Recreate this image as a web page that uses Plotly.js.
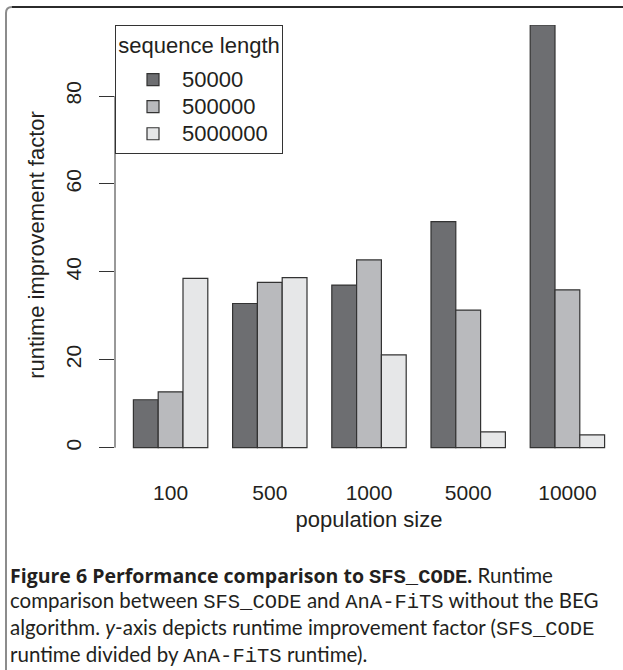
<!DOCTYPE html>
<html>
<head>
<meta charset="utf-8">
<script src="https://cdn.plot.ly/plotly-3.0.1.min.js"></script>
<style>
  html, body { margin: 0; padding: 0; background: #ffffff; }
  #chart { width: 623px; height: 670px; }
</style>
</head>
<body>
<div id="chart"></div>
<script>
// ---- data ----
const populationSizes = ["100", "500", "1000", "5000", "10000"];
const seqLengths = ["50000", "500000", "5000000"];
const factor50000 = [10.9, 32.8, 37.0, 51.4, 96.2];
const factor500000 = [12.7, 37.6, 42.7, 31.3, 35.9];
const factor5000000 = [38.5, 38.7, 21.1, 3.6, 2.9];
const yTicks = [0, 20, 40, 60, 80];

const seriesValues = [factor50000, factor500000, factor5000000];
const fills = ["#6d6e71", "#b9babd", "#e6e7e8"];

// ---- geometry helpers (pixel -> paper) ----
const W = 623, H = 670;
const M = { l: 115, r: 0, t: 25, b: 205 };
const PW = W - M.l - M.r, PH = H - M.t - M.b;
const px = x => (x - M.l) / PW;
const py = y => (H - M.b - y) / PH;

const ink = "#231f20";
const traces = seriesValues.map((vals, i) => ({
  type: "bar",
  name: `<span style="font-size:22px">${seqLengths[i]}</span>`,
  x: populationSizes,
  y: vals,
  marker: { color: fills[i], line: { color: "#333333", width: 1.2 } },
  hoverinfo: "skip"
}));

const mono = "'Liberation Mono', 'DejaVu Sans Mono', monospace";
const m = t => `<span style="font-family:${mono}">${t}</span>`;
const boldSans = t => `<span style="font-family:'Open Sans', Lato, sans-serif;font-size:19.5px">${t}</span>`;
const captionLines = [
  `<b>${boldSans("Figure 6 Performance comparison to")} ${m("SFS_CODE")}.</b> Runtime`,
  `comparison between ${m("SFS_CODE")} and ${m("AnA-FiTS")} without the BEG`,
  `algorithm. <i>y</i>-axis depicts runtime improvement factor (${m("SFS_CODE")}`,
  `runtime divided by ${m("AnA-FiTS")} runtime).`
];
const captionY = [575, 601, 628, 655];

const annotations = captionLines.map((t, i) => ({
  text: t, xref: "paper", yref: "paper",
  x: px(8), y: py(captionY[i]), xanchor: "left", yanchor: "middle",
  showarrow: false, align: "left",
  font: { family: "Lato, 'Open Sans', sans-serif", size: 20.5, color: ink }
}));

const shapes = [
  // y axis line from first to last tick
  { type: "line", xref: "paper", yref: "y", x0: 0, x1: 0, y0: yTicks[0], y1: yTicks[yTicks.length - 1],
    line: { color: "#333333", width: 1 } },
  // figure frame: left (gray) and top (dark) with rounded corner
  { type: "path", xref: "paper", yref: "paper",
    path: `M${px(6)},${py(H + 2)} L${px(6)},${py(13)} Q${px(6)},${py(7)} ${px(12)},${py(7)}`,
    line: { color: "#8c8c8c", width: 2 } },
  { type: "line", xref: "paper", yref: "paper", x0: px(12), x1: px(W + 2), y0: py(7), y1: py(7),
    line: { color: "#2b2b2b", width: 2 } }
];

const layout = {
  width: W, height: H,
  margin: M,
  paper_bgcolor: "#ffffff", plot_bgcolor: "#ffffff",
  font: { family: "'Liberation Sans', Arial, sans-serif", color: ink, size: 22 },
  barmode: "group", bargap: 0.25, bargroupgap: 0,
  showlegend: true,
  legend: {
    x: 0, y: 1, xanchor: "left", yanchor: "top",
    bgcolor: "#ffffff", bordercolor: "#333333", borderwidth: 1,
    font: { size: 18.5, color: ink },
    title: { text: `<span style="font-size:22px;baseline-shift:8px">sequence length</span>`, side: "top center",
             font: { size: 27, color: ink } },
    itemwidth: 48,
    indentation: 8,
    traceorder: "normal"
  },
  xaxis: {
    type: "category", range: [-0.5605, 4.5605], fixedrange: true,
    showline: false, showgrid: false, zeroline: false,
    ticks: "outside", ticklen: 9, tickcolor: "rgba(0,0,0,0)",
    tickfont: { size: 21, color: ink },
    title: { text: "population size", font: { size: 22, color: ink }, standoff: 8 }
  },
  yaxis: {
    range: [-3.94, 96.15], fixedrange: true,
    tickvals: yTicks, ticktext: yTicks.map(String), tickangle: -90,
    showline: false, showgrid: false, zeroline: false,
    ticks: "outside", ticklen: 15, tickwidth: 1, tickcolor: "#333333",
    ticklabelstandoff: 10,
    tickfont: { size: 21, color: ink },
    title: { text: "runtime improvement factor", font: { size: 22, color: ink }, standoff: 10 }
  },
  shapes: shapes,
  annotations: annotations
};

Plotly.newPlot("chart", traces, layout, { staticPlot: true, displayModeBar: false });
</script>
</body>
</html>
